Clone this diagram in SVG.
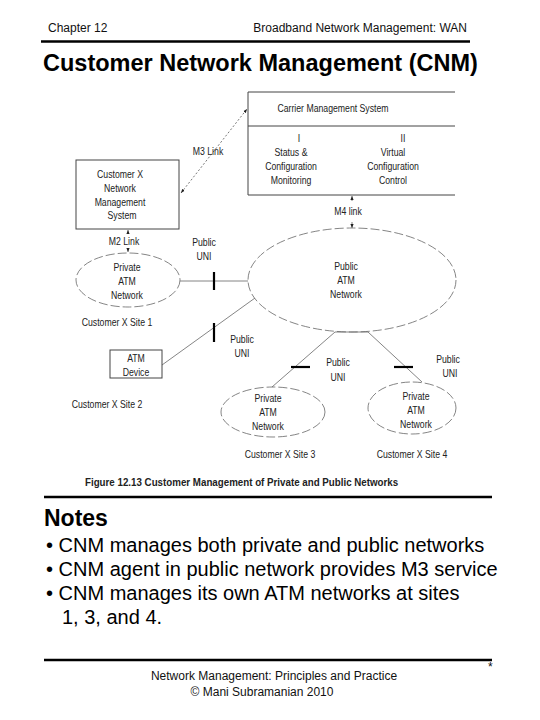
<svg xmlns="http://www.w3.org/2000/svg" width="540" height="720" viewBox="0 0 540 720">
<defs>
<style>
.hdr{font-family:"Liberation Sans",Arial,sans-serif;font-size:12px;fill:#111}
.title{font-family:"Liberation Sans",Arial,sans-serif;font-size:23.5px;font-weight:bold;fill:#000}
.lbl{font-family:"Liberation Sans",Arial,sans-serif;font-size:10.5px;fill:#222;text-anchor:middle}
.cap{font-family:"Liberation Sans",Arial,sans-serif;font-size:10.5px;font-weight:bold;fill:#222}
.notesh{font-family:"Liberation Sans",Arial,sans-serif;font-size:23px;font-weight:bold;fill:#000}
.note{font-family:"Liberation Sans",Arial,sans-serif;font-size:20px;fill:#000}
.foot{font-family:"Liberation Sans",Arial,sans-serif;font-size:12px;fill:#111;text-anchor:middle}
.box{fill:#fff;stroke:#444;stroke-width:1}
.ell{fill:none;stroke:#666;stroke-width:0.8;stroke-dasharray:9 3}
.link{fill:none;stroke:#666;stroke-width:0.8}
.dlink{fill:none;stroke:#555;stroke-width:0.8;stroke-dasharray:2 2}
.uni{stroke:#000;stroke-width:2.2}
.rule{stroke:#000;stroke-width:2.5}
</style>
<marker id="ah" viewBox="0 0 10 10" refX="10" refY="5" markerWidth="5" markerHeight="5" orient="auto-start-reverse">
<path d="M0,1 L10,5 L0,9 Z" fill="#222"/>
</marker>
</defs>

<text class="hdr" x="48" y="32">Chapter 12</text>
<text class="hdr" x="467" y="32" text-anchor="end">Broadband Network Management:  WAN</text>
<line class="rule" x1="41" y1="41.5" x2="470" y2="41.5"/>
<text class="title" x="43" y="71">Customer Network Management (CNM)</text>

<g id="connectors">
<line class="dlink" x1="181" y1="193" x2="247" y2="109" marker-start="url(#ah)" marker-end="url(#ah)"/>
<line class="link" x1="128" y1="230" x2="128" y2="234" marker-start="url(#ah)"/>
<line class="link" x1="128" y1="248" x2="128" y2="252" marker-end="url(#ah)"/>
<line class="link" x1="352" y1="196" x2="352" y2="201" marker-start="url(#ah)"/>
<line class="link" x1="352" y1="222" x2="352" y2="228" marker-end="url(#ah)"/>
<line class="link" x1="180" y1="281" x2="248" y2="281" stroke-width="1.2"/>
<line class="uni" x1="214" y1="272" x2="214" y2="290"/>
<line class="link" x1="162" y1="365" x2="255" y2="298"/>
<line class="uni" x1="214" y1="323" x2="214" y2="342"/>
<line class="link" x1="335" y1="332" x2="368" y2="332" stroke-width="1.1"/>
<line class="link" x1="335" y1="332" x2="272" y2="387"/>
<line class="uni" x1="291" y1="367" x2="310" y2="367"/>
<line class="link" x1="368" y1="332" x2="422" y2="382"/>
<line class="uni" x1="394" y1="367" x2="413" y2="367"/>
<text class="lbl" transform="translate(208,155) scale(0.83,1)">M3 Link</text>
<text class="lbl" transform="translate(124,245) scale(0.83,1)">M2 Link</text>
<text class="lbl" transform="translate(348,215) scale(0.83,1)">M4 link</text>
<text class="lbl" transform="translate(204,246) scale(0.83,1)">Public</text>
<text class="lbl" transform="translate(204,260) scale(0.83,1)">UNI</text>
<text class="lbl" transform="translate(242,343) scale(0.83,1)">Public</text>
<text class="lbl" transform="translate(242,357) scale(0.83,1)">UNI</text>
<text class="lbl" transform="translate(338,366) scale(0.83,1)">Public</text>
<text class="lbl" transform="translate(338,381) scale(0.83,1)">UNI</text>
<text class="lbl" transform="translate(448,363) scale(0.83,1)">Public</text>
<text class="lbl" transform="translate(450,377) scale(0.83,1)">UNI</text>
</g>

<g id="carrier">
<path d="M455,92 H248 V195 H455 M248,126 H455" fill="none" stroke="#444" stroke-width="1"/>
<text class="lbl" transform="translate(333,112) scale(0.83,1)">Carrier Management System</text>
<text class="lbl" transform="translate(299,142) scale(0.83,1)">I</text>
<text class="lbl" transform="translate(291,156) scale(0.83,1)">Status &amp;</text>
<text class="lbl" transform="translate(291,170) scale(0.83,1)">Configuration</text>
<text class="lbl" transform="translate(291,184) scale(0.83,1)">Monitoring</text>
<text class="lbl" transform="translate(403,142) scale(0.83,1)">II</text>
<text class="lbl" transform="translate(393,156) scale(0.83,1)">Virtual</text>
<text class="lbl" transform="translate(393,170) scale(0.83,1)">Configuration</text>
<text class="lbl" transform="translate(393,184) scale(0.83,1)">Control</text>
</g>

<g id="cnms">
<rect class="box" x="76" y="160" width="103" height="69"/>
<text class="lbl" transform="translate(120,178) scale(0.83,1)">Customer X</text>
<text class="lbl" transform="translate(120,192) scale(0.83,1)">Network</text>
<text class="lbl" transform="translate(120,206) scale(0.83,1)">Management</text>
<text class="lbl" transform="translate(122,219) scale(0.83,1)">System</text>
</g>

<g id="public-atm">
<ellipse class="ell" cx="352" cy="280" rx="104" ry="52"/>
<text class="lbl" transform="translate(346,270) scale(0.83,1)">Public</text>
<text class="lbl" transform="translate(346,284) scale(0.83,1)">ATM</text>
<text class="lbl" transform="translate(346,298) scale(0.83,1)">Network</text>
</g>

<g id="site1">
<ellipse class="ell" cx="128" cy="280" rx="52" ry="27"/>
<text class="lbl" transform="translate(127,271) scale(0.83,1)">Private</text>
<text class="lbl" transform="translate(127,285) scale(0.83,1)">ATM</text>
<text class="lbl" transform="translate(127,299) scale(0.83,1)">Network</text>
<text class="lbl" transform="translate(117,326) scale(0.83,1)">Customer X Site 1</text>
</g>

<g id="site2">
<rect class="box" x="110" y="350" width="52" height="28"/>
<text class="lbl" transform="translate(136,362) scale(0.83,1)">ATM</text>
<text class="lbl" transform="translate(136,376) scale(0.83,1)">Device</text>
<text class="lbl" transform="translate(107,408) scale(0.83,1)">Customer X Site 2</text>
</g>

<g id="site3">
<ellipse class="ell" cx="273" cy="412" rx="52" ry="25"/>
<text class="lbl" transform="translate(268,402) scale(0.83,1)">Private</text>
<text class="lbl" transform="translate(268,416) scale(0.83,1)">ATM</text>
<text class="lbl" transform="translate(268,430) scale(0.83,1)">Network</text>
<text class="lbl" transform="translate(280,458) scale(0.83,1)">Customer X Site 3</text>
</g>

<g id="site4">
<ellipse class="ell" cx="412" cy="408" rx="44" ry="26"/>
<text class="lbl" transform="translate(416,400) scale(0.83,1)">Private</text>
<text class="lbl" transform="translate(416,414) scale(0.83,1)">ATM</text>
<text class="lbl" transform="translate(416,428) scale(0.83,1)">Network</text>
<text class="lbl" transform="translate(412,458) scale(0.83,1)">Customer X Site 4</text>
</g>

<text class="cap" transform="translate(85,486) scale(0.93,1)">Figure 12.13  Customer Management of Private and Public Networks</text>
<line class="rule" x1="44" y1="497" x2="492" y2="497"/>

<text class="notesh" x="44" y="526">Notes</text>
<text class="note" x="46" y="552">• CNM manages both private and public networks</text>
<text class="note" x="46" y="576">• CNM agent in public network provides M3 service</text>
<text class="note" x="46" y="600">• CNM manages its own ATM networks at sites</text>
<text class="note" x="62" y="624">1, 3, and 4.</text>

<line class="rule" x1="44" y1="660" x2="492" y2="660"/>
<text class="hdr" x="488" y="671" font-size="11">*</text>
<text class="foot" x="274" y="680">Network Management: Principles and Practice</text>
<text class="foot" x="262" y="696">©  Mani Subramanian 2010</text>
</svg>
